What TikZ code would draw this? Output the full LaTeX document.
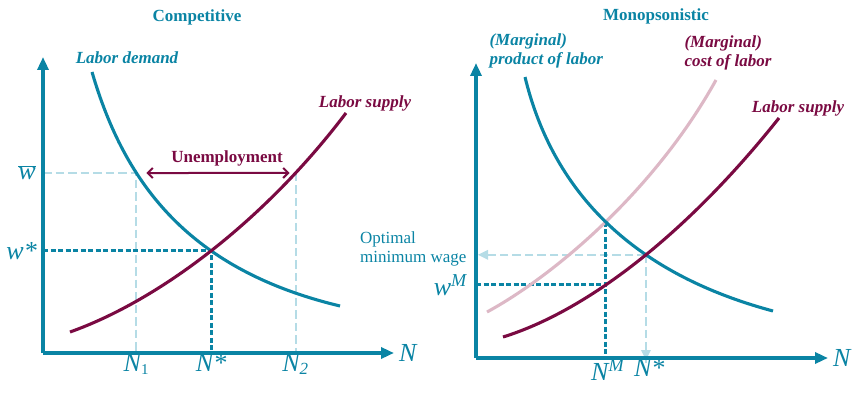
\documentclass[tikz,border=0pt]{standalone}
\usepackage{fontspec}
\setmainfont{Liberation Serif}
\usetikzlibrary{arrows.meta,intersections}
\definecolor{wageTeal}{HTML}{0A84A4}
\definecolor{wageMaroon}{HTML}{7A0A42}
\definecolor{wageLight}{HTML}{B5DCE6}
\definecolor{wagePink}{HTML}{DDB8C6}
\tikzset{
  axisline/.style={line width=3.8pt,wageTeal,-{Triangle[length=13pt,width=11pt]}},
  curveline/.style={line width=3.1pt},
  dotline/.style={line width=3pt,wageTeal,dash pattern=on 5pt off 2.5pt},
  lightline/.style={line width=1.9pt,wageLight,dash pattern=on 8.5pt off 4pt},
  title/.style={font=\fontsize{17}{19}\selectfont\bfseries,text=wageTeal},
  curvelabel/.style={font=\fontsize{17}{19}\selectfont\bfseries\itshape,align=left},
  axislabel/.style={font=\fontsize{26}{28}\selectfont\itshape,text=wageTeal,inner sep=1pt}
}

\begin{document}
\begin{tikzpicture}[x=1pt,y=-1pt]
\useasboundingbox (0,0) rectangle (853,393);
% ---- competitive ----
\coordinate (O1) at (43,353);
\node[title] (tcomp) at (197,17) {Competitive};
\path[name path=dem1] (92,72) .. controls (125,185) and (190,270) .. (340,306);
\path[name path=sup1] (70,332) .. controls (160,300) and (265,220) .. (346,113);
\path[name path=wbarline] (43,173) -- (393,173);
\path[name intersections={of=dem1 and sup1,by=E1}];
\path[name intersections={of=dem1 and wbarline,by=D1}];
\path[name intersections={of=sup1 and wbarline,by=S1}];
\draw[lightline] (O1 |- D1) -- (D1) -- (D1 |- O1);
\draw[lightline] (S1) -- (S1 |- O1);
\draw[dotline] (O1 |- E1) -- (E1) -- (E1 |- O1);
\draw[curveline,wageTeal] (92,72) .. controls (125,185) and (190,270) .. (340,306);
\draw[curveline,wageMaroon] (70,332) .. controls (160,300) and (265,220) .. (346,113);
\draw[axisline] (O1) -- (43,57);
\draw[axisline] (O1) -- (394,353);
\draw[line width=2pt,wageMaroon,{Straight Barb[length=5pt,width=10pt]}-{Straight Barb[length=5pt,width=10pt]}] ([xshift=10pt]D1) -- ([xshift=-6pt]S1);
\node[font=\fontsize{17}{19}\selectfont\bfseries,text=wageMaroon] (unemp) at (227,158) {Unemployment};
\node[curvelabel,text=wageTeal] (ldem) at (127,58) {Labor demand};
\node[curvelabel,text=wageMaroon] (lsup1) at (365,103) {Labor supply};
\node[axislabel,anchor=east] (wbar) at ([xshift=-6pt]O1 |- D1) {$\overline{\hbox{\textit{w}}}$};
\node[axislabel,anchor=east] (wstar) at ([xshift=-5pt]O1 |- E1) {\textit{w}*};
\node[axislabel,anchor=north] (n1) at (D1 |- O1) {\textit{N}\textsubscript{\upshape\fontsize{15}{15}\selectfont 1}};
\node[axislabel,anchor=north] (nstar1) at (E1 |- O1) {\textit{N}*};
\node[axislabel,anchor=north] (n2) at (S1 |- O1) {\textit{N}\textsubscript{\fontsize{17}{17}\selectfont 2}};
\node[axislabel,anchor=west] (nx1) at (398,353) {N};
% ---- monopsonistic ----
\coordinate (O2) at (476,358);
\node[title] (tmono) at (656,16) {Monopsonistic};
\path[name path=mpl] (525,77) .. controls (550,180) and (620,270) .. (773,311);
\path[name path=mcl] (487,312) .. controls (555,275) and (655,190) .. (716,80);
\path[name path=sup2] (503,337) .. controls (590,310) and (690,230) .. (779,118);
\path[name intersections={of=mpl and mcl,by=M2}];
\path[name intersections={of=mpl and sup2,by=E2}];
\path[name path=mline] (M2) -- (M2 |- O2);
\path[name intersections={of=mline and sup2,by=W2}];
\draw[lightline] (E2) -- ([xshift=8pt]O2 |- E2);
\draw[lightline] (E2) -- ([yshift=-8pt]E2 |- O2);
\fill[wageLight] ([xshift=2pt]O2 |- E2) -- ++(10,-5) -- ++(0,10) -- cycle;
\fill[wageLight] ([yshift=-2pt]E2 |- O2) -- ++(-5,-10) -- ++(10,0) -- cycle;
\draw[dotline] (O2 |- W2) -- (W2);
\draw[dotline] (M2) -- (M2 |- O2);
\draw[curveline,wagePink] (487,312) .. controls (555,275) and (655,190) .. (716,80);
\draw[curveline,wageTeal] (525,77) .. controls (550,180) and (620,270) .. (773,311);
\draw[curveline,wageMaroon] (503,337) .. controls (590,310) and (690,230) .. (779,118);
\draw[axisline] (O2) -- (476,63);
\draw[axisline] (O2) -- (828,358);
\node[curvelabel,text=wageTeal,anchor=north west] (mpl) at (486,30) {(Marginal)\\product of labor};
\node[curvelabel,text=wageMaroon,anchor=north west] (mcl) at (681,32) {(Marginal)\\cost of labor};
\node[curvelabel,text=wageMaroon] (lsup2) at (798,108) {Labor supply};
\node[font=\fontsize{17}{19}\selectfont,text=wageTeal,align=left,anchor=south west,inner sep=0pt] (optw) at (360,266) {Optimal\\minimum wage};
\node[axislabel,anchor=east] (wm) at ([xshift=-8pt]O2 |- W2) {\textit{w}\textsuperscript{\textit{M}}};
\node[axislabel,anchor=north] (nm) at ([xshift=2pt]W2 |- O2) {\textit{N}\textsuperscript{\textit{M}}};
\node[axislabel,anchor=north west] (nstar2) at ([xshift=-13pt]E2 |- O2) {\textit{N}*};
\node[axislabel,anchor=west] (nx2) at (832,358) {N};
\end{tikzpicture}
\end{document}
